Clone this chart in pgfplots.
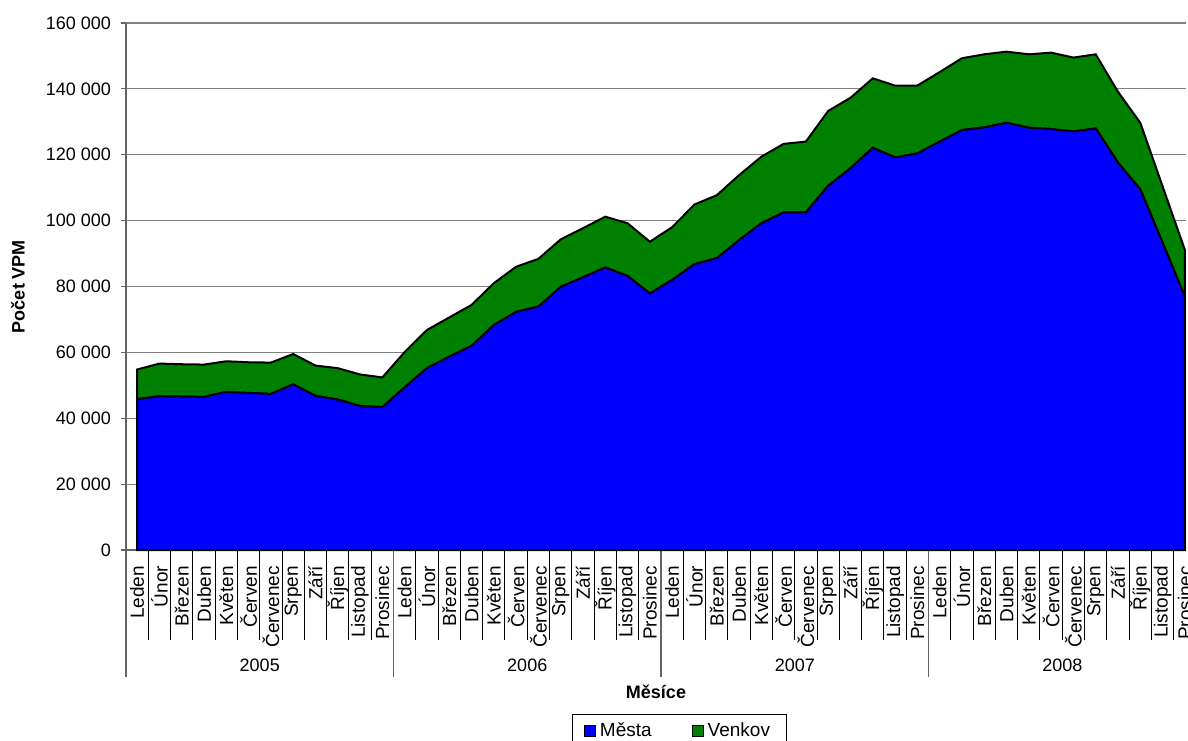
\documentclass[border=0pt]{standalone}
\usepackage{fontspec}
\setmainfont{Liberation Sans}
\usepackage{pgfplots}
\usepackage{pgfplotstable}
\pgfplotsset{compat=1.18}
\definecolor{mesta}{RGB}{0,0,255}
\definecolor{venkov}{RGB}{0,128,0}
\definecolor{axisgray}{RGB}{100,100,100}
\definecolor{gridgray}{RGB}{128,128,128}

% monthly counts 2005-2008, x = month index
\pgfplotstableread{
x mesta venkov
0 45800 9000
1 46700 9900
2 46600 9800
3 46500 9800
4 48000 9300
5 47700 9300
6 47400 9500
7 50300 9200
8 46800 9200
9 45700 9500
10 43700 9600
11 43400 9000
12 49400 10700
13 55200 11600
14 58700 11900
15 62000 12400
16 68300 12700
17 72300 13700
18 73900 14500
19 79900 14400
20 82800 14900
21 85800 15400
22 83200 16000
23 77900 15700
24 82000 16000
25 86800 18100
26 88600 19100
27 94100 19700
28 99200 20200
29 102500 20800
30 102500 21500
31 110600 22700
32 115900 21400
33 122100 21100
34 119200 21800
35 120400 20600
36 124000 21100
37 127500 21800
38 128300 22200
39 129700 21600
40 128200 22300
41 127800 23200
42 127100 22400
43 128000 22500
44 117600 21500
45 109500 20200
46 93300 17100
47 76900 14200
}\vpmdata

\begin{document}
\begin{tikzpicture}
\begin{axis}[
  name=ax,
  scale only axis, width=530pt, height=263.5pt,
  xmin=-0.5, xmax=47.05, ymin=0, ymax=160000,
  stack plots=y, clip=false,
  axis x line=bottom, axis y line=left,
  axis line style={-, draw=axisgray, line width=0.8pt},
  tick align=outside,
  major tick length=2.5pt,
  scaled y ticks=false,
  ytick={0,20000,40000,60000,80000,100000,120000,140000,160000},
  yticklabels={0,20 000,40 000,60 000,80 000,100 000,120 000,140 000,160 000},
  yticklabel style={font=\fontsize{9}{10}\selectfont},
  yticklabel shift=1.5pt,
  ymajorgrids, grid style={gridgray, line width=0.6pt},
  ytick style={draw=axisgray, line width=0.6pt},
  xtick={0,...,47},
  xticklabels={Leden,Únor,Březen,Duben,Květen,Červen,Červenec,Srpen,Září,Říjen,Listopad,Prosinec,
    Leden,Únor,Březen,Duben,Květen,Červen,Červenec,Srpen,Září,Říjen,Listopad,Prosinec,
    Leden,Únor,Březen,Duben,Květen,Červen,Červenec,Srpen,Září,Říjen,Listopad,Prosinec,
    Leden,Únor,Březen,Duben,Květen,Červen,Červenec,Srpen,Září,Říjen,Listopad,Prosinec},
  major x tick style={draw=none},
  xticklabel style={rotate=90, anchor=east, font=\fontsize{9.5}{10}\selectfont},
  xticklabel shift=2pt,
  minor xtick={-0.5,0.5,...,46.5},
  minor tick length=45pt,
  minor x tick style={draw=black, line width=0.5pt},
  extra x ticks={-0.5,11.5,23.5,35.5},
  extra x tick labels={},
  extra x tick style={major tick length=63.5pt, major x tick style={draw=axisgray, line width=0.8pt}},
  xlabel={\textbf{Měsíce}},
  xlabel style={at={(axis description cs:0.5,-0.2695)}, anchor=center, font=\fontsize{9}{10}\selectfont},
  ylabel={\textbf{Počet VPM}},
  ylabel style={at={(axis description cs:-0.1019,0.5)}, anchor=center, font=\fontsize{9}{10}\selectfont},
  legend columns=2,
  legend style={at={(axis description cs:0.5217,-0.3112)}, anchor=north, draw=black,
    font=\fontsize{9.5}{11}\selectfont, inner xsep=6pt,
    /tikz/every even column/.append style={column sep=18pt}},
  legend image code/.code={\draw[#1, draw=black, line width=0.5pt] (0pt,-2.75pt) rectangle (5.5pt,2.75pt);},
]
\addplot[fill=mesta, draw=black, line width=1pt] table[x=x, y=mesta] {\vpmdata} \closedcycle;
\addlegendentry{Města}
\addplot[fill=venkov, draw=black, line width=1pt] table[x=x, y=venkov] {\vpmdata} \closedcycle;
\addlegendentry{Venkov}

\node[font=\fontsize{9}{10}\selectfont, yshift=-57.5pt] at (axis cs:5.5,0) {2005};
\node[font=\fontsize{9}{10}\selectfont, yshift=-57.5pt] at (axis cs:17.5,0) {2006};
\node[font=\fontsize{9}{10}\selectfont, yshift=-57.5pt] at (axis cs:29.5,0) {2007};
\node[font=\fontsize{9}{10}\selectfont, yshift=-57.5pt] at (axis cs:41.5,0) {2008};
\end{axis}
\pgfresetboundingbox
\path (ax.south west) ++(-63pt,-95pt) rectangle ++(594pt,370pt);
\end{tikzpicture}
\end{document}
